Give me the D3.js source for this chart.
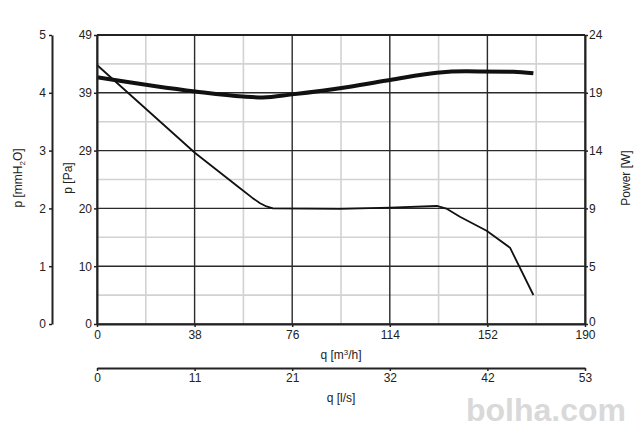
<!DOCTYPE html>
<html><head><meta charset="utf-8">
<script src="https://cdn.jsdelivr.net/npm/d3@7"></script>
<style>
html,body{margin:0;padding:0;background:#fff;}
svg text{font-family:"Liberation Sans",Arial,sans-serif;fill:#222;}
</style></head>
<body>
<svg id="c" width="640" height="428"></svg>
<script>
// ---- data ----
const qTicks = [0, 38, 76, 114, 152, 190];              // m³/h
const lsLabels = ["0", "11", "21", "32", "42", "53"];   // l/s labels
const mmTicks = [0, 1, 2, 3, 4, 5];                     // mmH2O
const paLabels = ["0", "10", "20", "29", "39", "49"];   // Pa labels
const wTicks = [0, 4.8, 9.6, 14.4, 19.2, 24];           // W
const wLabels = ["0", "5", "9", "14", "19", "24"];

// pressure curve: q [m³/h], p [Pa]
const pressQ = [0, 38.2, 55.7, 60.5, 63.5, 66.0, 68.5, 94.6, 114.1, 132.3, 136.0, 141.3, 151.7, 160.8, 169.9];
const pressPa = [43.96, 29.02, 23.03, 21.4, 20.5, 19.95, 19.64, 19.55, 19.74, 20.03, 19.6, 18.21, 15.83, 12.95, 4.92];
// power curve: q [m³/h], P [W]
const powQ = [0, 38.2, 56.8, 64.6, 75.9, 98.5, 114.1, 132.3, 143.9, 162.1, 169.9];
const powW = [20.49, 19.31, 18.89, 18.81, 19.07, 19.71, 20.26, 20.87, 20.98, 20.95, 20.82];

// ---- scales ----
const L = 97, R = 585, T = 35, B = 324;
const x = d3.scaleLinear().domain([0, 190]).range([L, R]);
const xLs = d3.scaleLinear().domain([0, 190 / 3.6]).range([L, R]);
const yMM = d3.scaleLinear().domain([0, 5]).range([B, T]);
const yPa = d3.scaleLinear().domain([0, 5 * 9.81]).range([B, T]);
const yW = d3.scaleLinear().domain([0, 24]).range([B, T]);

const svg = d3.select("#c");

// minor grid
const minorQ = d3.range(0, 5).map(i => qTicks[i] + 19);
const minorMM = d3.range(0, 5).map(i => i + 0.5);
const g = svg.append("g");
g.selectAll(".vm").data(minorQ).join("line")
  .attr("x1", d => x(d)).attr("x2", d => x(d)).attr("y1", T).attr("y2", B)
  .attr("stroke", "#d2d2d2").attr("stroke-width", 1.6);
g.selectAll(".hm").data(minorMM).join("line")
  .attr("x1", L).attr("x2", R).attr("y1", d => yMM(d)).attr("y2", d => yMM(d))
  .attr("stroke", "#d2d2d2").attr("stroke-width", 1.6);
// major grid
g.selectAll(".vM").data(qTicks).join("line")
  .attr("x1", d => x(d)).attr("x2", d => x(d)).attr("y1", T).attr("y2", B)
  .attr("stroke", "#2a2a2a").attr("stroke-width", 1.4);
g.selectAll(".hM").data(mmTicks).join("line")
  .attr("x1", L).attr("x2", R).attr("y1", d => yMM(d)).attr("y2", d => yMM(d))
  .attr("stroke", "#2a2a2a").attr("stroke-width", 1.4);

// curves
const pressData = pressQ.map((q, i) => [q, pressPa[i]]);
const powData = powQ.map((q, i) => [q, powW[i]]);
svg.append("path").datum(pressData)
  .attr("fill", "none").attr("stroke", "#111").attr("stroke-width", 1.8).attr("stroke-linejoin", "round")
  .attr("d", d3.line().x(d => x(d[0])).y(d => yPa(d[1])));
svg.append("path").datum(powData)
  .attr("fill", "none").attr("stroke", "#111").attr("stroke-width", 4)
  .attr("d", d3.line().x(d => x(d[0])).y(d => yW(d[1])).curve(d3.curveMonotoneX));

function styleAxis(sel) {
  sel.select(".domain").attr("stroke", "#222").attr("stroke-width", 2);
  sel.selectAll(".tick line").attr("stroke", "#222").attr("stroke-width", 1.5);
  sel.selectAll("text").style("font-size", "12px").attr("fill", "#222");
}

// bottom axis m³/h
svg.append("g").attr("transform", `translate(0,${B})`)
  .call(d3.axisBottom(x).tickValues(qTicks).tickSize(3).tickSizeOuter(0).tickPadding(3).tickFormat(d3.format("d")))
  .call(styleAxis);
// second axis l/s
svg.append("g").attr("transform", `translate(0,368)`)
  .call(d3.axisBottom(xLs).tickValues(qTicks.map(q => q / 3.6)).tickSize(3).tickSizeOuter(0).tickPadding(2)
    .tickFormat((d, i) => lsLabels[i]))
  .call(styleAxis);
// left Pa axis
svg.append("g").attr("transform", `translate(${L},0)`)
  .call(d3.axisLeft(yPa).tickValues(mmTicks.map(v => v * 9.81)).tickSize(3).tickSizeOuter(0).tickPadding(2)
    .tickFormat((d, i) => paLabels[i]))
  .call(styleAxis);
// mmH2O axis
svg.append("g").attr("transform", `translate(52,0)`)
  .call(d3.axisLeft(yMM).tickValues(mmTicks).tickSize(3).tickSizeOuter(0).tickPadding(3).tickFormat(d3.format("d")))
  .call(styleAxis);
// right power axis
const rAx = svg.append("g").attr("transform", `translate(${R},0)`)
  .call(d3.axisRight(yW).tickValues(wTicks).tickSize(3).tickSizeOuter(0).tickPadding(1)
    .tickFormat((d, i) => wLabels[i]))
  .call(styleAxis);
rAx.selectAll(".tick text").filter(d => d === 0).attr("dy", "0.1em");
// top border
svg.append("line").attr("x1", L).attr("x2", R).attr("y1", T).attr("y2", T)
  .attr("stroke", "#222").attr("stroke-width", 1.8);

// titles
svg.append("text").attr("x", (L + R) / 2).attr("y", 359).attr("text-anchor", "middle")
  .style("font-size", "12px").html('q [m<tspan dy="-4" font-size="8">3</tspan><tspan dy="4">/h]</tspan>');
svg.append("text").attr("x", (L + R) / 2).attr("y", 402).attr("text-anchor", "middle")
  .style("font-size", "12px").text("q [l/s]");
svg.append("text").attr("transform", "translate(72,178) rotate(-90)").attr("text-anchor", "middle")
  .style("font-size", "12px").text("p [Pa]");
svg.append("text").attr("transform", "translate(22,178) rotate(-90)").attr("text-anchor", "middle")
  .style("font-size", "12px").html('p [mmH<tspan dy="3" font-size="8">2</tspan><tspan dy="-3">O]</tspan>');
svg.append("text").attr("transform", "translate(630,178) rotate(-90)").attr("text-anchor", "middle")
  .style("font-size", "12px").text("Power [W]");

// watermark
svg.append("text").attr("x", 626).attr("y", 421).attr("text-anchor", "end")
  .style("font-size", "32px").style("font-weight", "bold")
  .style("fill", "#d9d9d9").text("bolha.com");
</script>
</body></html>
